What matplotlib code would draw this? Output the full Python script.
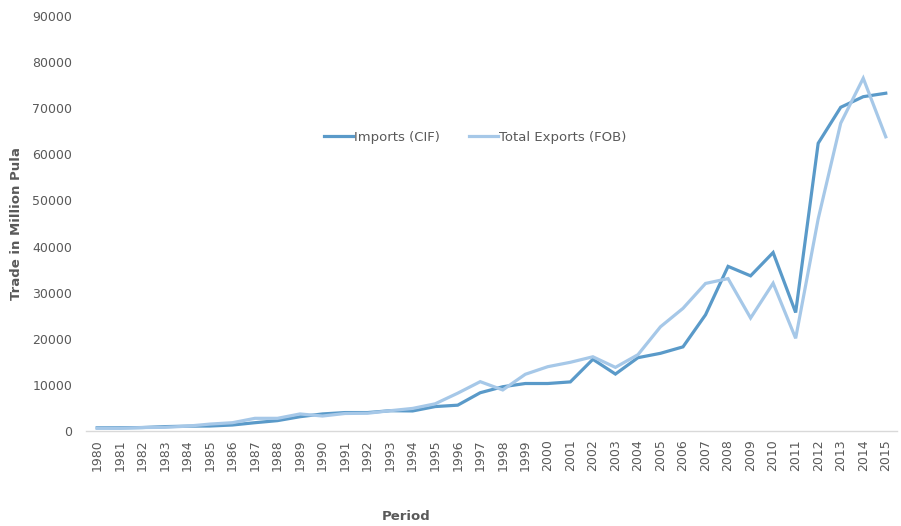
import numpy as np
import matplotlib.pyplot as plt

years = [str(y) for y in range(1980, 2016)]
imports_cif = [700, 700, 750, 950, 1050, 1080, 1300, 1800, 2250, 3100,
               3700, 4000, 4000, 4400, 4350, 5300, 5600, 8300, 9600, 10300,
               10300, 10650, 15550, 12350, 15900, 16850, 18250, 25200, 35700, 33650,
               38700, 25700, 62400, 70200, 72500, 73250]
exports_fob = [600, 580, 750, 800, 1050, 1500, 1800, 2750, 2750, 3700,
               3250, 3800, 3850, 4400, 4900, 5900, 8200, 10700, 8900, 12300,
               13950, 14900, 16100, 13800, 16550, 22600, 26600, 32000, 33050, 24500,
               32050, 20100, 46000, 66750, 76500, 63800]

grey = '#595959'
plt.rcParams['font.family'] = ['DejaVu Sans']

fig = plt.figure(figsize=(9.01, 5.26), dpi=100)
ax = fig.add_axes([0.0954, 0.1806, 0.9002, 0.789])

x = np.arange(len(years))
ax.plot(x, imports_cif, color='#5A9AC9', lw=2.3, label='Imports (CIF)', solid_joinstyle='miter')
ax.plot(x, exports_fob, color='#A6C8E8', lw=2.3, label='Total Exports (FOB)', solid_joinstyle='miter')

ax.set_xlim(-0.5, len(years) - 0.5)
ax.set_ylim(0, 90000)
ax.set_yticks(range(0, 90001, 10000))
ax.set_yticklabels([str(v) for v in range(0, 90001, 10000)])
ax.set_xticks(x)
ax.set_xticklabels(years, rotation=90)
ax.tick_params(length=0, colors=grey, labelsize=9)
ax.tick_params(axis='y', pad=10)
ax.tick_params(axis='x', pad=6)

for s in ['top', 'right', 'left']:
    ax.spines[s].set_visible(False)
ax.spines['bottom'].set_color('#D9D9D9')
ax.spines['bottom'].set_linewidth(1.0)

ax.set_ylabel('Trade in Million Pula', fontsize=9.5, fontweight='bold', color=grey)
ax.yaxis.set_label_coords(-0.078, 0.5)
fig.text(406 / 901, 1 - 517 / 526, 'Period', fontsize=9.5, fontweight='bold',
         color=grey, ha='center', va='center')

ax.legend(loc='center', bbox_to_anchor=(0.48, 0.708), ncol=2, frameon=False,
          fontsize=9.5, labelcolor=grey, handlelength=2.2, handletextpad=0.05,
          columnspacing=2.2)

fig.savefig('out.png', dpi=100)
